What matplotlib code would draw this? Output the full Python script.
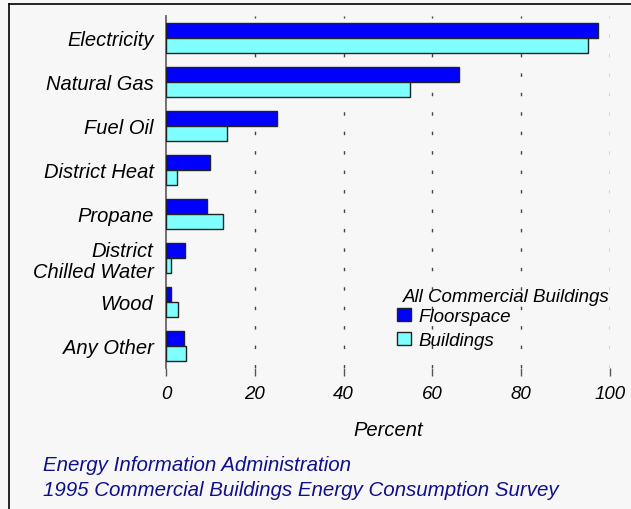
import matplotlib
matplotlib.use("Agg")
import matplotlib.pyplot as plt
import numpy as np
from matplotlib.lines import Line2D

plt.rcParams['font.family'] = ['Liberation Sans', 'DejaVu Sans']

# data (percent)
categories = ['Electricity', 'Natural Gas', 'Fuel Oil', 'District Heat',
              'Propane', 'District\nChilled Water', 'Wood', 'Any Other']
floorspace = [97.4, 66.1, 24.9, 10.0, 9.2, 4.3, 1.2, 4.1]
buildings = [95.1, 55.0, 13.8, 2.4, 12.9, 1.2, 2.8, 4.6]
xticks = [0, 20, 40, 60, 80, 100]

bg = '#f7f7f7'
fig = plt.figure(figsize=(6.31, 5.10), dpi=100, facecolor=bg)
W, H = 631, 510
ax = fig.add_axes([166 / W, 1 - 369 / H, (610 - 166) / W, (369 - 17) / H])
ax.set_facecolor(bg)

y = np.arange(len(categories))
bh = 0.33
b1 = ax.barh(y - bh / 2, floorspace, height=bh, color='#0000ff',
             edgecolor='#222222', linewidth=1, label='Floorspace', zorder=3)
b2 = ax.barh(y + bh / 2, buildings, height=bh, color='#7fffff',
             edgecolor='#222222', linewidth=1, label='Buildings', zorder=3)

ax.set_xlim(0, 100)
ax.set_ylim(len(categories) - 0.5, -0.5)
ax.set_yticks(y)
ax.set_yticklabels(categories, fontsize=14.5, style='italic', linespacing=1.1)
ax.tick_params(axis='y', length=0, pad=9)
ax.set_xticks(xticks)
ax.set_xticklabels([str(t) for t in xticks], fontsize=13.5, style='italic')
ax.tick_params(axis='x', length=6, width=1, color='#555555', pad=6)
ax.set_xlabel('Percent', fontsize=14.5, style='italic', labelpad=13)

for t in xticks[1:]:
    ax.axvline(t, color='#444444', lw=1, linestyle=(0, (2.5, 11.5)), zorder=1)

for s in ['top', 'right', 'bottom']:
    ax.spines[s].set_visible(False)
ax.spines['left'].set_color('#666666')
ax.spines['left'].set_linewidth(1.3)

# legend
fig.text(403 / W, 1 - 297 / H, 'All Commercial Buildings', fontsize=13.5,
         style='italic', va='center', ha='left')
fs = 13.5 * 100 / 72
ax.legend(handles=[b1, b2], loc='upper left',
          bbox_to_anchor=(397 / W, 1 - 309 / H), bbox_transform=fig.transFigure,
          frameon=False, prop={'size': 13.5, 'style': 'italic'},
          borderpad=0, borderaxespad=0, handlelength=14 / fs,
          handleheight=12 / fs, handletextpad=7 / fs, labelspacing=0.38)

# footer
fig.text(43 / W, 1 - 466 / H, 'Energy Information Administration',
         fontsize=14.8, style='italic', color='#10108a', va='center')
fig.text(43 / W, 1 - 491 / H, '1995 Commercial Buildings Energy Consumption Survey',
         fontsize=14.8, style='italic', color='#10108a', va='center')

# frame lines
fig.add_artist(Line2D([9 / W, 1], [1 - 5 / H, 1 - 5 / H], transform=fig.transFigure,
                      color='black', lw=1.2))
fig.add_artist(Line2D([9 / W, 9 / W], [0, 1 - 5 / H], transform=fig.transFigure,
                      color='black', lw=1.2))

fig.savefig('out.png', dpi=100, facecolor=bg)
